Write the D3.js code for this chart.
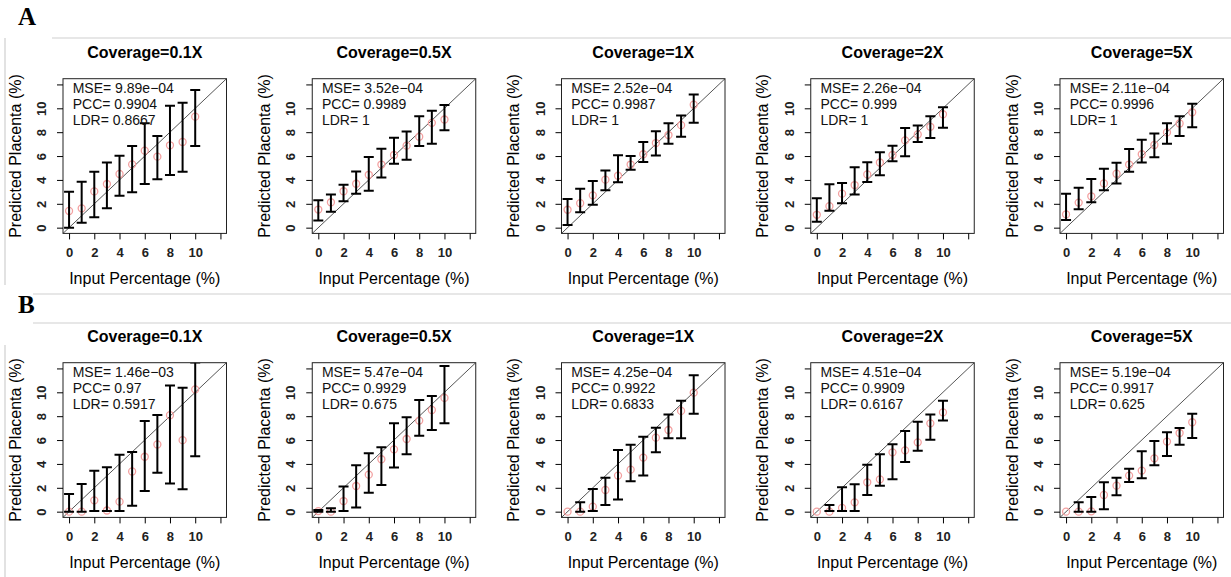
<!DOCTYPE html>
<html>
<head>
<meta charset="utf-8">
<script src="https://cdn.jsdelivr.net/npm/d3@7/dist/d3.min.js"></script>
<style>
body { margin: 0; background: #fff; }
svg { display: block; font-family: "Liberation Sans", Arial, sans-serif; }
</style>
</head>
<body>
<div class="fig"></div>
<script>
// input percentages on the x axis
const inputPct = [0, 1, 2, 3, 4, 5, 6, 7, 8, 9, 10];
const coverages = ["Coverage=0.1X", "Coverage=0.5X", "Coverage=1X", "Coverage=2X", "Coverage=5X"];
const axisTicks = [0, 2, 4, 6, 8, 10, 12];
const labelTicks = [0, 2, 4, 6, 8, 10];

// row A: mean, lower and upper end of the bars, one array per coverage
const meanA = [
  [1.4, 1.62, 3.04, 3.66, 4.5, 5.3, 6.45, 5.95, 6.9, 7.18, 9.3],
  [1.52, 2.13, 3.05, 3.68, 4.43, 5.29, 6.09, 6.87, 7.62, 8.78, 9.06],
  [1.5, 2.05, 2.71, 4.02, 4.35, 5.29, 6.15, 7.09, 7.76, 8.59, 10.3],
  [1.08, 1.8, 2.85, 3.57, 4.46, 5.46, 6.09, 7.31, 7.81, 8.45, 9.5],
  [1.11, 2.1, 2.63, 3.71, 4.52, 5.29, 6.15, 6.93, 7.98, 8.73, 9.67]
];
const lowA = [
  [0, 0.42, 0.87, 1.62, 2.68, 2.96, 3.66, 4.05, 4.41, 4.69, 6.84],
  [0.61, 1.33, 2.22, 2.85, 3.1, 4.21, 5.35, 5.68, 6.84, 7.04, 8.17],
  [0.22, 1.3, 1.91, 3.13, 3.8, 4.85, 5.51, 6.04, 7.04, 7.62, 8.78],
  [0.5, 1.41, 2.05, 2.77, 3.82, 4.4, 5.57, 5.98, 7.17, 7.51, 8.37],
  [0.64, 1.55, 2.13, 3.13, 3.71, 4.68, 5.46, 5.9, 7.04, 7.67, 8.42]
];
const highA = [
  [3.0, 3.85, 4.69, 5.45, 6.03, 6.84, 8.74, 7.68, 10.22, 10.47, 11.53],
  [2.3, 2.77, 3.6, 4.71, 5.93, 6.62, 7.53, 8.06, 9.34, 9.8, 10.28],
  [2.41, 3.27, 3.9, 4.79, 6.07, 6.0, 7.17, 8.08, 8.75, 9.39, 11.16],
  [2.47, 3.63, 3.74, 5.07, 5.48, 6.32, 6.87, 8.34, 8.56, 9.34, 10.08],
  [2.85, 3.35, 4.07, 4.93, 5.43, 6.59, 7.37, 7.89, 8.75, 9.34, 10.39]
];
const mseA = ["9.89e\u221204", "3.52e\u221204", "2.52e\u221204", "2.26e\u221204", "2.11e\u221204"];
const pccA = ["0.9904", "0.9989", "0.9987", "0.999", "0.9996"];
const ldrA = ["0.8667", "1", "1", "1", "1"];

// row B
const meanB = [
  [0, 0, 0.95, 0.1, 0.84, 3.37, 4.6, 5.63, 8.08, 5.99, 10.25],
  [0.05, 0, 0.89, 2.15, 3.1, 4.39, 5.22, 6.09, 7.63, 8.52, 9.53],
  [0, 0, 0.42, 1.82, 3.02, 3.52, 4.53, 6.2, 6.84, 8.44, 9.97],
  [0, 0, 0.31, 0.78, 2.46, 2.71, 4.97, 5.14, 5.81, 7.4, 8.32],
  [0, 0, 0.03, 1.4, 2.18, 3.02, 3.44, 4.47, 5.87, 6.59, 7.49]
];
const lowB = [
  [0, 0, 0.06, 0.06, 0.06, 0.5, 1.73, 3.26, 2.37, 1.87, 4.65],
  [0, 0, 0.06, 0.34, 1.59, 2.23, 3.69, 4.8, 6.37, 6.84, 7.4],
  [0, 0, 0.06, 0.56, 1.03, 2.54, 3.02, 4.97, 6.15, 6.15, 8.21],
  [0, 0.06, 0.06, 0.06, 1.4, 2.18, 2.71, 4.16, 5.11, 6.03, 7.63],
  [0, 0, 0, 0.2, 1.37, 2.49, 2.79, 3.88, 4.66, 5.61, 6.17]
];
const highB = [
  [1.48, 2.31, 3.43, 3.73, 4.76, 4.99, 7.6, 8.1, 10.58, 10.39, 12.5],
  [0.15, 0.28, 2.1, 3.88, 4.89, 5.39, 7.4, 7.9, 9.36, 9.69, 12.2],
  [0, 0.78, 1.9, 2.85, 5.17, 5.61, 6.28, 7.04, 8.13, 9.3, 11.42],
  [0, 0.56, 2.04, 2.29, 3.94, 4.8, 5.64, 6.76, 7.54, 8.13, 9.3],
  [0, 0.78, 1.23, 2.46, 2.85, 3.6, 5.06, 5.92, 6.65, 7.01, 8.21]
];
const mseB = ["1.46e\u221203", "5.47e\u221204", "4.25e\u221204", "4.51e\u221204", "5.19e\u221204"];
const pccB = ["0.97", "0.9929", "0.9922", "0.9909", "0.9917"];
const ldrB = ["0.5917", "0.675", "0.6833", "0.6167", "0.625"];

const rows = [
  {label: "A", mean: meanA, low: lowA, high: highA, mse: mseA, pcc: pccA, ldr: ldrA},
  {label: "B", mean: meanB, low: lowB, high: highB, mse: mseB, pcc: pccB, ldr: ldrB}
];

var width = 1231;
var height = 577;
var boxW = 163.5;
var boxH = 154.7;
var rowTop = [78.7, 362.7];
var labelBase = [25, 313];

const svg = d3.select(".fig").append("svg")
    .attr("width", width)
    .attr("height", height);

// the light frame lines left over from the composed figure
const frame = [
  [52, 38, width, 38], [5, 38, 5, 285],
  [33, 294, width, 294], [33, 323, width, 323], [5, 345, 5, height]
];
svg.selectAll("line.frame").data(frame).join("line")
    .attr("class", "frame")
    .attr("x1", d => d[0]).attr("y1", d => d[1])
    .attr("x2", d => d[2]).attr("y2", d => d[3])
    .attr("stroke", "#cfcfcf")
    .attr("stroke-width", 1.2);

// R pads the [0,12] limits by 4%
const x = d3.scaleLinear().domain([-0.48, 12.48]).range([0, boxW]);
const y = d3.scaleLinear().domain([-0.48, 12.48]).range([boxH, 0]);

rows.forEach((row, r) => {
  svg.append("text")
      .attr("x", 18)
      .attr("y", labelBase[r])
      .attr("font-family", "'Liberation Serif', 'Times New Roman', serif")
      .attr("font-weight", "bold")
      .attr("font-size", 25)
      .text(row.label);

  coverages.forEach((cov, c) => {
    const g = svg.append("g")
        .attr("transform", `translate(${63 + c * 249.25},${rowTop[r]})`);

    const clipId = `clip-${r}-${c}`;
    g.append("clipPath").attr("id", clipId)
      .append("rect").attr("width", boxW).attr("height", boxH);

    const plot = g.append("g").attr("clip-path", `url(#${clipId})`);

    // y = x reference line
    plot.append("line")
        .attr("x1", x(-0.48)).attr("y1", y(-0.48))
        .attr("x2", x(12.48)).attr("y2", y(12.48))
        .attr("stroke", "#555")
        .attr("stroke-width", 1);

    const pts = inputPct.map((p, i) => ({p: p, m: row.mean[c][i], lo: row.low[c][i], hi: row.high[c][i]}));
    const bars = pts.filter(d => d.hi - d.lo > 0);

    // means, drawn first so the bars sit on top
    plot.selectAll("circle").data(pts).join("circle")
        .attr("cx", d => x(d.p))
        .attr("cy", d => y(d.m))
        .attr("r", 3.5)
        .attr("fill", "none")
        .attr("stroke", "#f3a0a0")
        .attr("stroke-width", 1.3);

    plot.selectAll("line.bar").data(bars).join("line")
        .attr("class", "bar")
        .attr("x1", d => x(d.p)).attr("x2", d => x(d.p))
        .attr("y1", d => y(d.lo)).attr("y2", d => y(d.hi))
        .attr("stroke", "#000")
        .attr("stroke-width", 2);

    ["lo", "hi"].forEach(k => {
      plot.selectAll("line.cap-" + k).data(bars).join("line")
          .attr("class", "cap-" + k)
          .attr("x1", d => x(d.p) - 5).attr("x2", d => x(d.p) + 5)
          .attr("y1", d => y(d[k])).attr("y2", d => y(d[k]))
          .attr("stroke", "#000")
          .attr("stroke-width", 2);
    });

    g.append("rect")
        .attr("width", boxW)
        .attr("height", boxH)
        .attr("fill", "none")
        .attr("stroke", "#222")
        .attr("stroke-width", 1);

    const fmt = d => labelTicks.includes(d) ? d : "";

    const xa = g.append("g")
        .attr("transform", `translate(0,${boxH})`)
        .call(d3.axisBottom(x).tickValues(axisTicks).tickSize(6).tickFormat(fmt));
    xa.select(".domain").remove();
    xa.selectAll("text")
        .attr("y", 19.5)
        .attr("dy", "0.35em")
        .attr("font-size", 13)
        .attr("font-weight", "bold")
        .attr("font-family", "'Liberation Sans', Arial, sans-serif")
        .attr("fill", "#222");

    const ya = g.append("g")
        .call(d3.axisLeft(y).tickValues(axisTicks).tickSize(6).tickFormat(fmt));
    ya.select(".domain").remove();
    ya.selectAll("text")
        .attr("x", null)
        .attr("dy", "0.35em")
        .attr("text-anchor", "middle")
        .attr("transform", "translate(-21.5,0) rotate(-90)")
        .attr("font-size", 13)
        .attr("font-weight", "bold")
        .attr("font-family", "'Liberation Sans', Arial, sans-serif")
        .attr("fill", "#222");

    g.append("text")
        .attr("x", boxW / 2)
        .attr("y", -26)
        .attr("dy", "0.35em")
        .attr("text-anchor", "middle")
        .attr("font-size", 16)
        .attr("font-weight", "bold")
        .text(cov);

    g.append("text")
        .attr("x", boxW / 2)
        .attr("y", boxH + 45)
        .attr("dy", "0.35em")
        .attr("text-anchor", "middle")
        .attr("font-size", 16)
        .text("Input Percentage (%)");

    g.append("text")
        .attr("transform", `translate(-48,${boxH / 2}) rotate(-90)`)
        .attr("dy", "0.35em")
        .attr("text-anchor", "middle")
        .attr("font-size", 16)
        .text("Predicted Placenta (%)");

    const stats = ["MSE= " + row.mse[c], "PCC= " + row.pcc[c], "LDR= " + row.ldr[c]];
    g.selectAll("text.stat").data(stats).join("text")
        .attr("class", "stat")
        .attr("x", 9.7)
        .attr("y", (d, i) => 14.5 + i * 16.1)
        .attr("font-size", 14)
        .attr("fill", "#111")
        .text(d => d);
  });
});
</script>
</body>
</html>
